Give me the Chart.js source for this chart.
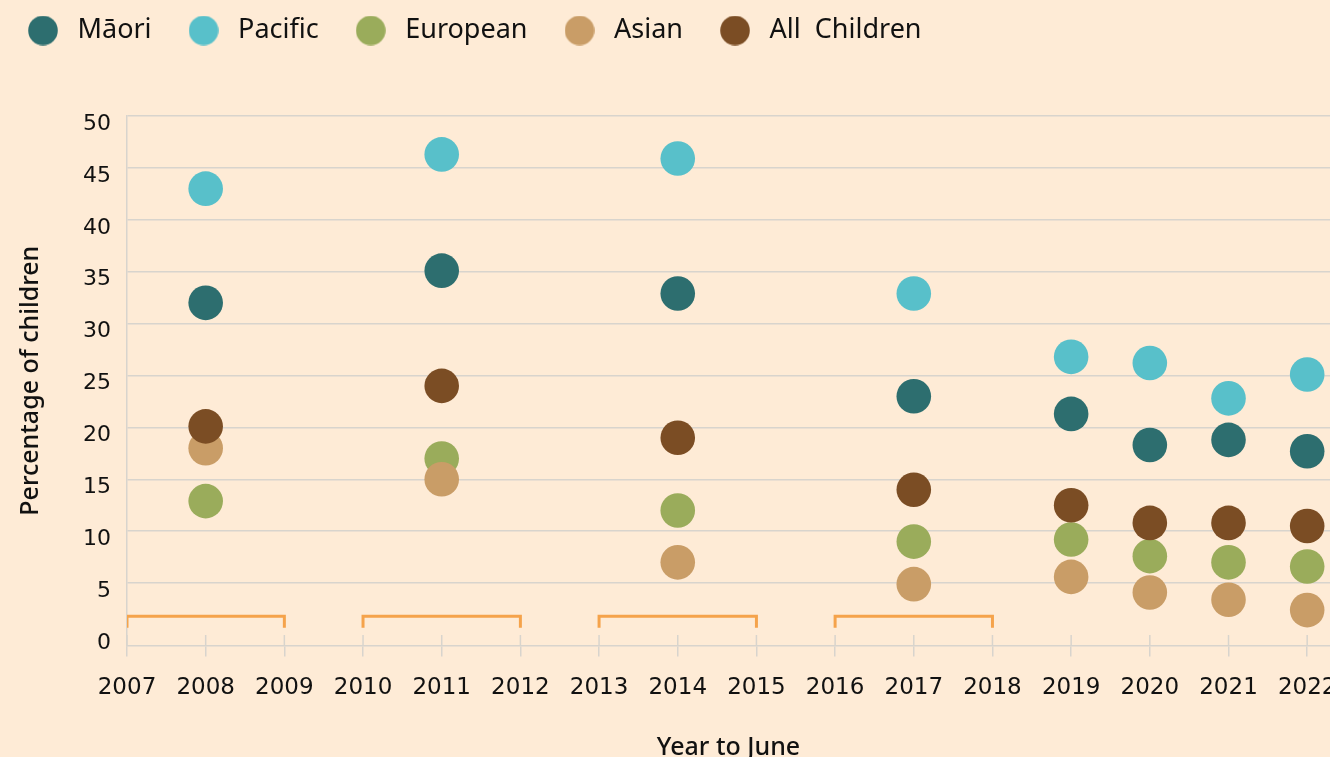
<!DOCTYPE html>
<html>
<head>
<meta charset="utf-8">
<title>Percentage of children by ethnicity</title>
<script src="https://cdn.jsdelivr.net/npm/chart.js@4.4.0/dist/chart.umd.min.js"></script>
<style>
  html, body { margin: 0; padding: 0; background: #feebd6; overflow: hidden; }
  #chart { display: block; }
</style>
</head>
<body>
<canvas id="chart" width="1360" height="780"></canvas>
<script>
// survey years and values (percent of children)
const years = [2008, 2011, 2014, 2017, 2019, 2020, 2021, 2022];
const maori = [32, 35.1, 32.9, 23, 21.3, 18.3, 18.8, 17.7];
const pacific = [43, 46.3, 45.9, 32.9, 26.8, 26.2, 22.8, 25.1];
const european = [12.9, 17, 12, 9, 9.2, 7.6, 7, 6.6];
const asian = [18, 15, 7, 4.9, 5.6, 4.1, 3.4, 2.4];
const allChildren = [20.1, 24, 19, 14, 12.5, 10.8, 10.8, 10.5];

// pooled survey periods (orange brackets)
const poolStart = [2007, 2010, 2013, 2016];
const poolEnd = [2009, 2012, 2015, 2018];

const xTicks = [2007, 2008, 2009, 2010, 2011, 2012, 2013, 2014, 2015, 2016, 2017, 2018, 2019, 2020, 2021, 2022];
const yTicks = [0, 5, 10, 15, 20, 25, 30, 35, 40, 45, 50];

const gridColor = '#d8d4cd';
const textColor = '#111111';
const bracketColor = '#f5a34b';

const series = [
	{ label: 'Māori', data: maori, color: '#2d6e6f', order: 5 },
	{ label: 'Pacific', data: pacific, color: '#58c0ca', order: 4 },
	{ label: 'European', data: european, color: '#9aac5b', order: 3 },
	{ label: 'Asian', data: asian, color: '#c99d67', order: 2 },
	{ label: 'All  Children', data: allChildren, color: '#7b4d24', order: 1 },
];

// round legend markers, a bit bigger than the default box
function legendDot(color) {
	const c = document.createElement('canvas');
	c.width = 30;
	c.height = 30;
	const g = c.getContext('2d');
	g.fillStyle = color;
	g.beginPath();
	g.arc(15, 15, 14.8, 0, Math.PI * 2);
	g.fill();
	return c;
}
const dots = series.map((s) => legendDot(s.color));

const datasets = series.map((s) => ({
	label: s.label,
	data: years.map((yr, i) => ({ x: yr, y: s.data[i] })),
	backgroundColor: s.color,
	borderWidth: 0,
	pointRadius: 17.3,
	pointHoverRadius: 17.3,
	order: s.order,
}));

poolStart.forEach((start, i) => {
	datasets.push({
		label: 'pool',
		data: [
			{ x: start, y: 0.7 },
			{ x: start, y: 1.8 },
			{ x: poolEnd[i], y: 1.8 },
			{ x: poolEnd[i], y: 0.7 },
		],
		showLine: true,
		borderColor: bracketColor,
		borderWidth: 3,
		pointRadius: 0,
		fill: false,
		order: 10,
	});
});

// tick marks on the x axis also poke up above the axis line
const tickUp = {
	id: 'tickUp',
	beforeDatasetsDraw(chart) {
		const { ctx, scales: { x, y } } = chart;
		const top = y.getPixelForValue(0);
		const bottom = chart.chartArea.bottom;
		ctx.save();
		ctx.strokeStyle = gridColor;
		ctx.lineWidth = 1.5;
		x.ticks.forEach((t) => {
			const px = x.getPixelForValue(t.value);
			ctx.beginPath();
			ctx.moveTo(px, top);
			ctx.lineTo(px, bottom);
			ctx.stroke();
		});
		ctx.restore();
	},
};

// extra room between legend and plot
const legendGap = {
	id: 'legendGap',
	beforeInit(chart) {
		if (!chart.legend) return;
		const fit = chart.legend.fit;
		chart.legend.fit = function () {
			fit.call(this);
			this.height += 62;
		};
	},
};

new Chart('chart', {
	type: 'scatter',
	data: { datasets },
	plugins: [tickUp, legendGap],
	options: {
		responsive: false,
		animation: false,
		events: [],
		layout: { padding: { left: -9, top: -14, right: 30, bottom: 0 } },
		scales: {
			x: {
				type: 'linear',
				min: 2007,
				max: 2022.29,
				afterBuildTicks: (scale) => {
					scale.ticks = xTicks.map((v) => ({ value: v }));
				},
				ticks: {
					callback: (v) => String(v),
					font: { family: 'DejaVu Sans', size: 23 },
					color: textColor,
					padding: 18,
					autoSkip: false,
					maxRotation: 0,
				},
				grid: { drawOnChartArea: false, color: gridColor, lineWidth: 1.5, tickLength: 11 },
				border: { display: true, color: gridColor, width: 1.5 },
				title: {
					display: true,
					text: 'Year to June',
					font: { family: 'Noto Sans', size: 25, weight: '500' },
					color: textColor,
					padding: { top: 13, bottom: 17 },
				},
			},
			y: {
				min: -1,
				max: 50,
				afterBuildTicks: (scale) => {
					scale.ticks = yTicks.map((v) => ({ value: v }));
				},
				ticks: {
					font: { family: 'DejaVu Sans', size: 22 },
					color: textColor,
					padding: 16,
					labelOffset: 8,
				},
				grid: {
					drawTicks: false,
					lineWidth: 1.5,
					color: (c) => (c.tick && c.tick.value === 0 ? 'rgba(0,0,0,0)' : gridColor),
				},
				border: { display: true, color: gridColor, width: 1.5 },
				title: {
					display: true,
					text: 'Percentage of children',
					font: { family: 'Noto Sans', size: 25, weight: '500' },
					color: textColor,
					padding: { top: 25, bottom: 21 },
				},
			},
		},
		plugins: {
			tooltip: { enabled: false },
			legend: {
				position: 'top',
				align: 'start',
				labels: {
					font: { family: 'Noto Sans', size: 27 },
					color: textColor,
					usePointStyle: true,
					pointStyleWidth: 42,
					padding: 31,
					filter: (item) => item.datasetIndex < series.length,
					sort: (a, b) => a.datasetIndex - b.datasetIndex,
					generateLabels: (chart) =>
						Chart.defaults.plugins.legend.labels.generateLabels(chart).map((item) => ({
							...item,
							pointStyle: dots[item.datasetIndex] || item.pointStyle,
						})),
				},
			},
		},
	},
});
</script>
</body>
</html>
